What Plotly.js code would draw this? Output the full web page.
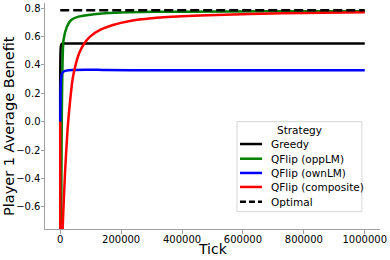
<!DOCTYPE html>
<html>
<head>
<meta charset="utf-8">
<script src="https://cdn.plot.ly/plotly-3.0.1.min.js"></script>
<style>html,body{margin:0;padding:0;background:#fff;}#chart{width:390px;height:260px;}</style>
</head>
<body>
<div id="chart"></div>
<script>
// ---- data ----
var seriesNames = ["Greedy", "QFlip (oppLM)", "QFlip (ownLM)", "QFlip (composite)", "Optimal"];

var greedyTicks = [0, 2000, 5000, 20000, 100000, 400000, 1000000];
var greedyVals  = [0.0, 0.53, 0.55, 0.551, 0.551, 0.551, 0.551];

var oppTicks = [0, 800, 3000, 5000, 7000, 10800, 21900, 35900, 59800, 92500, 147000, 222000, 400000, 700000, 1000000];
var oppVals  = [0.0, -2.0, -0.76, 0.0, 0.35, 0.576, 0.67, 0.717, 0.741, 0.753, 0.765, 0.772, 0.776, 0.778, 0.779];

var ownTicks = [0, 1000, 2500, 5000, 10800, 20000, 40000, 90000, 150000, 300000, 600000, 1000000];
var ownVals  = [0.0, 0.2, 0.3, 0.335, 0.353, 0.36, 0.365, 0.367, 0.364, 0.362, 0.362, 0.362];

var compTicks = [0, 1000, 5000, 8000, 10800, 16000, 23900, 32700, 40200, 49000, 62100, 79400, 98000, 130700, 173200, 228800, 299700, 400000, 512100, 728800, 1000000];
var compVals  = [0.0, -2.0, -1.2, -0.76, -0.6, -0.35, -0.06, 0.153, 0.294, 0.388, 0.483, 0.553, 0.6, 0.647, 0.682, 0.71, 0.729, 0.743, 0.753, 0.765, 0.772];

var optTicks = [0, 1000000];
var optVals  = [0.786, 0.786];

var yTickVals = [-0.6, -0.4, -0.2, 0.0, 0.2, 0.4, 0.6, 0.8];
var yTickText = ["\u22120.6", "\u22120.4", "\u22120.2", "0.0", "0.2", "0.4", "0.6", "0.8"];
var xTickVals = [0, 200000, 400000, 600000, 800000, 1000000];
var xTickText = ["0", "200000", "400000", "600000", "800000", "1000000"];

var xTitle = "Tick";
var yTitle = "Player 1 Average Benefit";
var legendTitle = "Strategy";

var colors = ["#000000", "#008000", "#0000ff", "#ff0000", "#000000"];
var dashes = ["solid", "solid", "solid", "solid", "9px,4px"];

var xs = [greedyTicks, oppTicks, ownTicks, compTicks, optTicks];
var ys = [greedyVals, oppVals, ownVals, compVals, optVals];

var traces = [];
for (var i = 0; i < seriesNames.length; i++) {
  traces.push({
    x: xs[i], y: ys[i], name: seriesNames[i], type: "scatter", mode: "lines",
    line: {color: colors[i], width: 2.5, dash: dashes[i], shape: "spline", smoothing: 0.6},
    showlegend: false, hoverinfo: "skip"
  });
}
traces[4].line.shape = "linear";

// manual legend (matplotlib style)
var lgX0 = 0.573, lgX1 = 0.946, lgY0 = 0.077, lgY1 = 0.475;
var entryY = [0.376, 0.311, 0.248, 0.186, 0.121];
var shapes = [{
  type: "rect", xref: "paper", yref: "paper", x0: lgX0, x1: lgX1, y0: lgY0, y1: lgY1,
  line: {color: "#d6d6d6", width: 1}, fillcolor: "rgba(255,255,255,0.85)", layer: "above"
}];
var annotations = [{
  xref: "paper", yref: "paper", x: (lgX0 + lgX1) / 2, y: 0.438, text: legendTitle,
  showarrow: false, xanchor: "center", yanchor: "middle",
  font: {family: "DejaVu Sans", size: 10.5, color: "#000"}
}, {
  xref: "paper", yref: "paper", x: 0.5, y: -0.088, text: xTitle,
  showarrow: false, xanchor: "center", yanchor: "middle",
  font: {family: "DejaVu Sans", size: 14, color: "#000"}
}, {
  xref: "paper", yref: "paper", x: -0.108, y: 0.455, text: yTitle, textangle: -90,
  showarrow: false, xanchor: "center", yanchor: "middle",
  font: {family: "DejaVu Sans", size: 14.5, color: "#000"}
}];
for (var j = 0; j < seriesNames.length; j++) {
  shapes.push({
    type: "line", xref: "paper", yref: "paper", x0: 0.582, x1: 0.648, y0: entryY[j], y1: entryY[j],
    line: {color: colors[j], width: 2.5, dash: j === 4 ? "6px,3px" : "solid"}, layer: "above"
  });
  annotations.push({
    xref: "paper", yref: "paper", x: 0.669, y: entryY[j], text: seriesNames[j],
    showarrow: false, xanchor: "left", yanchor: "middle",
    font: {family: "DejaVu Sans", size: 10.5, color: "#000"}
  });
}

var layout = {
  width: 390, height: 260,
  margin: {l: 45, r: 10, t: 3, b: 31, pad: 0},
  paper_bgcolor: "#fff", plot_bgcolor: "#fff",
  font: {family: "DejaVu Sans", size: 10, color: "#000"},
  showlegend: false,
  xaxis: {
    range: [-50000, 1050000], tickvals: xTickVals, ticktext: xTickText,
    showgrid: false, zeroline: false, showline: true, linecolor: "#a0a0a0", linewidth: 1,
    ticks: "outside", ticklen: 3.5, tickcolor: "#a0a0a0", tickfont: {size: 10},
    ticklabelstandoff: -3
  },
  yaxis: {
    range: [-0.757, 0.837], tickvals: yTickVals, ticktext: yTickText,
    showgrid: false, zeroline: false, showline: true, linecolor: "#a0a0a0", linewidth: 1,
    ticks: "outside", ticklen: 3.5, tickcolor: "#a0a0a0", tickfont: {size: 10},
    ticklabelstandoff: -2
  },
  shapes: shapes,
  annotations: annotations
};

Plotly.newPlot("chart", traces, layout, {staticPlot: true, displayModeBar: false});
</script>
</body>
</html>
